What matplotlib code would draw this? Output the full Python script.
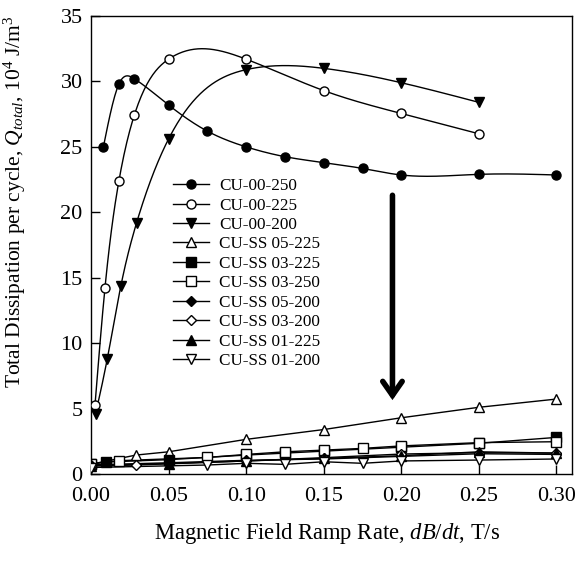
import numpy as np
import matplotlib
matplotlib.use("Agg")
import matplotlib.pyplot as plt

plt.rcParams['font.family'] = ['Liberation Serif', 'DejaVu Serif']
plt.rcParams['mathtext.fontset'] = 'custom'
plt.rcParams['mathtext.rm'] = 'Liberation Serif'
plt.rcParams['mathtext.it'] = 'Liberation Serif:italic'

# ---- data ----
cu00_250_x = [0.008, 0.018, 0.028, 0.05, 0.075, 0.10, 0.125, 0.15, 0.175, 0.20, 0.25, 0.30]
cu00_250_y = [25.0, 29.8, 30.2, 28.2, 26.2, 25.0, 24.25, 23.8, 23.35, 22.85, 22.9, 22.85]

cu00_225_x = [0.0026, 0.009, 0.018, 0.028, 0.05, 0.10, 0.15, 0.20, 0.25]
cu00_225_y = [5.3, 14.2, 22.4, 27.45, 31.7, 31.7, 29.3, 27.55, 26.0]

cu00_200_x = [0.003, 0.0105, 0.0193, 0.0294, 0.05, 0.10, 0.15, 0.20, 0.25]
cu00_200_y = [4.6, 8.8, 14.4, 19.2, 25.6, 30.9, 31.0, 29.9, 28.4]

ss05_225_x = [0.0, 0.029, 0.05, 0.10, 0.15, 0.20, 0.25, 0.30]
ss05_225_y = [0.75, 1.45, 1.7, 2.65, 3.4, 4.3, 5.1, 5.73]

ss03_225_x = [0.0, 0.01, 0.05, 0.10, 0.125, 0.15, 0.20, 0.25, 0.30]
ss03_225_y = [0.75, 0.92, 1.1, 1.45, 1.6, 1.75, 2.05, 2.35, 2.8]

ss03_250_x = [0.0, 0.018, 0.075, 0.10, 0.125, 0.15, 0.175, 0.20, 0.25, 0.30]
ss03_250_y = [0.8, 1.02, 1.27, 1.5, 1.7, 1.83, 1.96, 2.15, 2.4, 2.47]

ss05_200_x = [0.0, 0.05, 0.10, 0.15, 0.20, 0.25, 0.30]
ss05_200_y = [0.7, 0.86, 1.05, 1.15, 1.35, 1.55, 1.5]

ss03_200_x = [0.0, 0.029, 0.10, 0.15, 0.20, 0.25, 0.30]
ss03_200_y = [0.6, 0.69, 1.0, 1.25, 1.53, 1.63, 1.6]

ss01_225_x = [0.0, 0.05, 0.10, 0.15, 0.20, 0.25, 0.30]
ss01_225_y = [0.65, 0.8, 1.0, 1.2, 1.4, 1.7, 1.6]

ss01_200_x = [0.0, 0.075, 0.10, 0.125, 0.15, 0.175, 0.20, 0.25, 0.30]
ss01_200_y = [0.5, 0.69, 0.82, 0.74, 0.94, 0.82, 1.0, 1.07, 1.15]

labels = ['CU-00-250', 'CU-00-225', 'CU-00-200', 'CU-SS 05-225', 'CU-SS 03-225',
          'CU-SS 03-250', 'CU-SS 05-200', 'CU-SS 03-200', 'CU-SS 01-225', 'CU-SS 01-200']
xticks = [0.00, 0.05, 0.10, 0.15, 0.20, 0.25, 0.30]
yticks = [0, 5, 10, 15, 20, 25, 30, 35]


def natural_spline(x, y, n=400):
    x = np.asarray(x, float)
    y = np.asarray(y, float)
    m = len(x)
    h = np.diff(x)
    A = np.zeros((m, m))
    b = np.zeros(m)
    A[0, 0] = 1
    A[-1, -1] = 1
    for i in range(1, m - 1):
        A[i, i - 1] = h[i - 1]
        A[i, i] = 2 * (h[i - 1] + h[i])
        A[i, i + 1] = h[i]
        b[i] = 3 * ((y[i + 1] - y[i]) / h[i] - (y[i] - y[i - 1]) / h[i - 1])
    c = np.linalg.solve(A, b)
    xs = np.linspace(x[0], x[-1], n)
    idx = np.clip(np.searchsorted(x, xs) - 1, 0, m - 2)
    dx = xs - x[idx]
    bb = (y[idx + 1] - y[idx]) / h[idx] - h[idx] * (2 * c[idx] + c[idx + 1]) / 3
    dd = (c[idx + 1] - c[idx]) / (3 * h[idx])
    ys = y[idx] + bb * dx + c[idx] * dx ** 2 + dd * dx ** 3
    return xs, ys


fig = plt.figure(figsize=(5.78, 5.61), dpi=100)
ax = fig.add_axes([0.1574, 0.155, 0.8322, 0.8165])

ms = 6.5
lw = 1.0
series = [
    (cu00_250_x, cu00_250_y, 'o', 'black', True),
    (cu00_225_x, cu00_225_y, 'o', 'white', True),
    (cu00_200_x, cu00_200_y, 'v', 'black', True),
    (ss05_225_x, ss05_225_y, '^', 'white', False),
    (ss03_225_x, ss03_225_y, 's', 'black', False),
    (ss03_250_x, ss03_250_y, 's', 'white', False),
    (ss05_200_x, ss05_200_y, 'D', 'black', False),
    (ss03_200_x, ss03_200_y, 'D', 'white', False),
    (ss01_225_x, ss01_225_y, '^', 'black', False),
    (ss01_200_x, ss01_200_y, 'v', 'white', False),
]
handles = []
for (x, y, mk, fc, smooth), lab in zip(series, labels):
    if smooth:
        xs, ys = natural_spline(x, y)
        ax.plot(xs, ys, color='black', lw=lw, zorder=2)
    else:
        ax.plot(x, y, color='black', lw=lw, zorder=2)
    mss = ms * 0.85 if mk == 'D' else ms
    ax.plot(x, y, linestyle='none', marker=mk, markersize=mss, markerfacecolor=fc,
            markeredgecolor='black', markeredgewidth=1.0, zorder=3)
    h, = ax.plot([], [], color='black', lw=lw, marker=mk, markersize=mss,
                 markerfacecolor=fc, markeredgecolor='black', markeredgewidth=1.0)
    handles.append(h)

ax.legend(handles, labels, loc='upper left', bbox_to_anchor=(0.145, 0.672),
          frameon=False, fontsize=12.3, handlelength=2.1, labelspacing=0.2,
          handletextpad=0.6, borderpad=0.2)

ax.annotate('', xy=(0.1943, 5.65), xytext=(0.1943, 21.3),
            arrowprops=dict(arrowstyle='->,head_length=1.0,head_width=0.7',
                            lw=4, color='black', shrinkA=0, shrinkB=0,
                            capstyle='round', joinstyle='miter'))

ax.set_xlim(0, 0.31)
ax.set_ylim(0, 35)
ax.set_xticks(xticks)
ax.set_xticklabels([f'{v:.2f}' for v in xticks])
ax.set_yticks(yticks)
ax.tick_params(direction='in', length=6.5, width=1, labelsize=16, top=False, right=False)
ax.tick_params(axis='x', pad=9)
ax.tick_params(axis='y', pad=6)
for s in ax.spines.values():
    s.set_linewidth(1.0)

ax.set_xlabel('Magnetic Field Ramp Rate, $dB/dt$, T/s', fontsize=16.3)
ax.xaxis.set_label_coords(0.49, -0.103)
ax.set_ylabel('Total Dissipation per cycle, $Q_{total}$, 10$^4$ J/m$^3$', fontsize=15.5)
ax.yaxis.set_label_coords(-0.13, 0.595)

fig.savefig('out.png', dpi=100)
